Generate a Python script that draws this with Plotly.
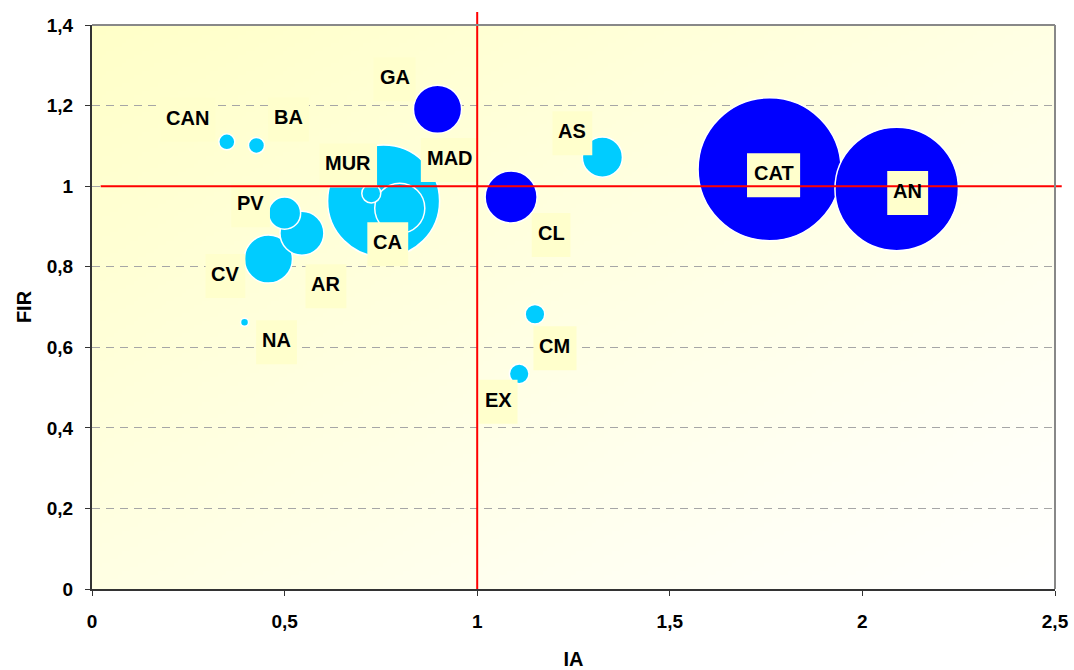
import base64
import struct
import zlib

import numpy as np
import plotly.graph_objects as go

# Regional data: IA (x), FIR (y) and bubble weight (area-proportional)
regiones = ["CAT", "AN", "MAD", "CL", "CA", "GA", "CV", "AR", "AS", "PV",
            "CM", "EX", "MUR", "CAN", "BA", "NA"]
ia = [1.759, 2.089, 0.757, 1.088, 0.799, 0.897, 0.458, 0.545, 1.325, 0.500,
      1.150, 1.109, 0.725, 0.350, 0.427, 0.396]
fir = [1.042, 0.993, 0.963, 0.973, 0.945, 1.191, 0.819, 0.883, 1.072, 0.933,
       0.682, 0.534, 0.982, 1.110, 1.101, 0.662]
peso = [31.8, 23.7, 19.5, 4.2, 3.9, 3.6, 3.6, 3.0, 2.5, 1.6,
        0.6, 0.6, 0.56, 0.4, 0.4, 0.1]
grupo = ["A", "A", "B", "A", "B", "A", "B", "B", "B", "B",
         "B", "B", "B", "B", "B", "B"]

x_ticks = [0, 0.5, 1, 1.5, 2, 2.5]
x_ticktext = ["0", "0,5", "1", "1,5", "2", "2,5"]
y_ticks = [0, 0.2, 0.4, 0.6, 0.8, 1.0, 1.2, 1.4]
y_ticktext = ["0", "0,2", "0,4", "0,6", "0,8", "1", "1,2", "1,4"]

ref_ia = 1.0
ref_fir = 1.0

# Label placement (pixel offsets of each label box from its bubble)
label_offsets = {
    "CAT": (4, -6), "AN": (11, -4), "MAD": (66, 41), "CL": (40, -38),
    "CA": (-12, -36), "GA": (-43, 30), "CV": (-43, -17), "AR": (24, -53),
    "AS": (-30, 24), "PV": (-34, 8), "CM": (20, -34), "EX": (-21, -28),
    "MUR": (-23, 28), "CAN": (-39, 22), "BA": (32, 26), "NA": (32, -20),
}

colores = {"A": "#0000FF", "B": "#00CCFF"}
FONT = "Liberation Sans, Arial, sans-serif"
LABEL_SIZE = 20
LABEL_BOX_H = 44
# Arial Bold advance widths (em units) for the label letters
CHAR_W = {"A": .722, "B": .722, "C": .722, "D": .722, "E": .667, "G": .778,
          "L": .611, "M": .833, "N": .722, "P": .667, "R": .722, "S": .667,
          "T": .611, "U": .722, "V": .667, "X": .667}


def gradient_png(w, h, c0, c1):
    """Diagonal gradient from c0 (top-left) to c1 (bottom-right) as PNG bytes."""
    u = np.linspace(0, 1, w)[None, :]
    v = np.linspace(0, 1, h)[:, None]
    t = (u + v) / 2.0
    c0 = np.array(c0, dtype=float)
    c1 = np.array(c1, dtype=float)
    img = c0[None, None, :] * (1 - t[..., None]) + c1[None, None, :] * t[..., None]
    img = np.clip(np.round(img), 0, 255).astype(np.uint8)
    raw = b"".join(b"\x00" + img[r].tobytes() for r in range(h))

    def chunk(tag, data):
        body = tag + data
        return struct.pack(">I", len(data)) + body + struct.pack(">I", zlib.crc32(body) & 0xFFFFFFFF)

    return (b"\x89PNG\r\n\x1a\n"
            + chunk(b"IHDR", struct.pack(">IIBBBBB", w, h, 8, 2, 0, 0, 0))
            + chunk(b"IDAT", zlib.compress(raw, 9))
            + chunk(b"IEND", b""))


bg_src = "data:image/png;base64," + base64.b64encode(
    gradient_png(240, 140, (255, 255, 200), (255, 255, 255))).decode()

max_diam = 143
sizeref = 2.0 * max(peso) / max_diam ** 2

fig = go.Figure()
fig.add_trace(go.Scatter(
    x=ia, y=fir, mode="markers",
    text=regiones,
    marker=dict(
        size=peso, sizemode="area", sizeref=sizeref,
        color=[colores[g] for g in grupo],
        opacity=1,
        line=dict(color="white", width=1.5),
    ),
    hovertemplate="%{text}<br>IA=%{x}<br>FIR=%{y}<extra></extra>",
    showlegend=False,
    cliponaxis=False,
))

shapes = []
annotations = []
for name, xv, yv in zip(regiones, ia, fir):
    dx, dy = label_offsets[name]
    box_w = sum(CHAR_W[c] for c in name) * LABEL_SIZE + 12
    # label background box, anchored to the bubble
    shapes.append(dict(
        type="rect", xref="x", yref="y",
        xsizemode="pixel", ysizemode="pixel", xanchor=xv, yanchor=yv,
        x0=dx - box_w / 2, x1=dx + box_w / 2,
        y0=dy - LABEL_BOX_H / 2, y1=dy + LABEL_BOX_H / 2,
        fillcolor="#FFFFCC", line=dict(width=0), layer="above",
    ))
    annotations.append(dict(
        x=xv, y=yv, xref="x", yref="y", text=name, showarrow=False,
        xshift=dx, yshift=dy + 2,
        font=dict(family=FONT, size=LABEL_SIZE, color="black", weight="bold"),
    ))

shapes += [
    # quadrant reference lines
    dict(type="line", xref="x", yref="paper", x0=ref_ia, x1=ref_ia, y0=0, y1=1.023,
         line=dict(color="#FF0000", width=2), layer="above"),
    dict(type="line", xref="paper", yref="y", x0=0.009, x1=1.007, y0=ref_fir, y1=ref_fir,
         line=dict(color="#FF0000", width=2), layer="above"),
    # top and right frame
    dict(type="line", xref="paper", yref="paper", x0=0, x1=1, y0=1, y1=1,
         line=dict(color="#888888", width=2), layer="above"),
    dict(type="line", xref="paper", yref="paper", x0=1, x1=1, y0=0, y1=1,
         line=dict(color="#888888", width=2), layer="above"),
]

fig.update_layout(
    width=1074, height=670,
    margin=dict(l=92, r=19, t=25, b=81),
    paper_bgcolor="white",
    plot_bgcolor="#FFFFEE",
    font=dict(family=FONT, color="black"),
    images=[dict(source=bg_src, xref="paper", yref="paper", x=0, y=1,
                 sizex=1, sizey=1, sizing="stretch", layer="below",
                 xanchor="left", yanchor="top")],
    annotations=annotations,
    shapes=shapes,
    xaxis=dict(
        range=[0, 2.5], tickvals=x_ticks, ticktext=x_ticktext,
        showgrid=False, zeroline=False, automargin=False,
        showline=True, linecolor="#333333", linewidth=2,
        ticks="outside", ticklen=5, tickcolor="#333333", tickwidth=1,
        ticklabelstandoff=9,
        tickfont=dict(family=FONT, size=19, color="black", weight="bold"),
        title=dict(text="IA", standoff=28,
                   font=dict(family=FONT, size=20, color="black", weight="bold")),
    ),
    yaxis=dict(
        range=[0, 1.4], tickvals=y_ticks, ticktext=y_ticktext,
        showgrid=True, gridcolor="#A6A6A6", griddash="8px,6px", gridwidth=1,
        zeroline=False, automargin=False,
        showline=True, linecolor="#333333", linewidth=2,
        ticks="outside", ticklen=5, tickcolor="#333333", tickwidth=1,
        ticklabelstandoff=8,
        tickfont=dict(family=FONT, size=19, color="black", weight="bold"),
        title=dict(text="FIR", standoff=10,
                   font=dict(family=FONT, size=20, color="black", weight="bold")),
    ),
)

fig.write_html("out.html")
